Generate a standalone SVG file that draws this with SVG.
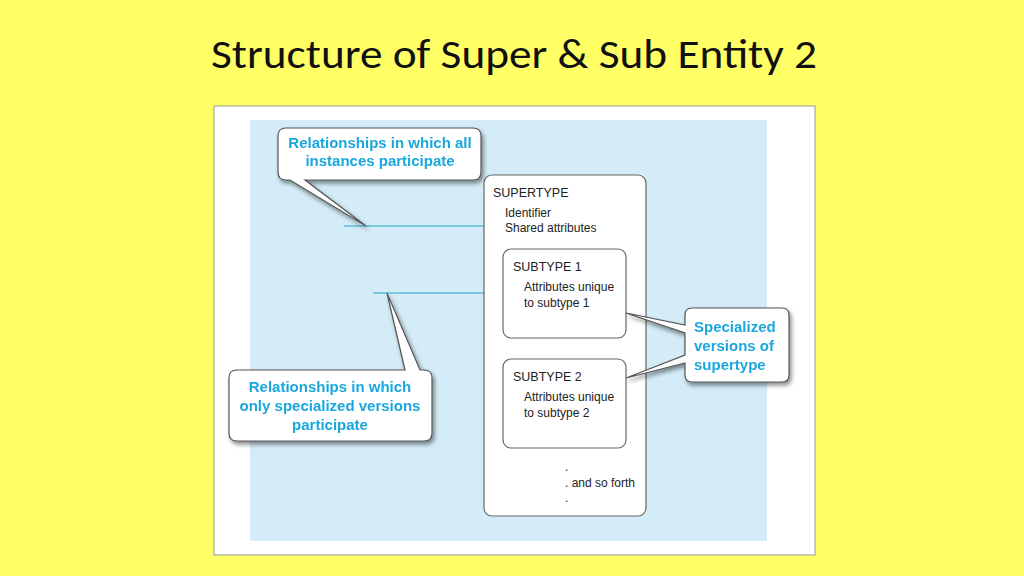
<svg xmlns="http://www.w3.org/2000/svg" width="1024" height="576" viewBox="0 0 1024 576">
<defs><filter id="sh" x="-10%" y="-10%" width="130%" height="140%"><feDropShadow dx="2" dy="3" stdDeviation="2" flood-color="#000" flood-opacity="0.45"/></filter></defs>
<style>
.t{font-family:"Liberation Sans",Arial,sans-serif;fill:#222}
.c{font-family:"Liberation Sans",Arial,sans-serif;fill:#1aa7dc;font-weight:bold;font-size:15px}
.box{fill:#fff;stroke:#666;stroke-width:1.2}
.call{fill:#fff;stroke:#555;stroke-width:1.2}
.ln{stroke:#5bbcd9;stroke-width:1.5}
</style>
<rect width="1024" height="576" fill="#ffff66"/>
<text x="514" y="68" text-anchor="middle" font-family="Calibri,Carlito,'Liberation Sans',sans-serif" font-size="42" textLength="606" lengthAdjust="spacingAndGlyphs" fill="#111">Structure of Super &amp; Sub Entity 2</text>
<rect x="214" y="106" width="601" height="449" fill="#fff" stroke="#999"/>
<rect x="250" y="120" width="517" height="421" fill="#d3ecf7"/>
<g id="connectors">
<line class="ln" x1="344" y1="226" x2="484" y2="226"/>
<line class="ln" x1="373" y1="293" x2="503" y2="293"/>
</g>
<g id="supertype">
<rect class="box" x="484" y="175" width="162" height="341" rx="8"/>
<text class="t" x="493" y="197" font-size="12.5">SUPERTYPE</text>
<text class="t" x="505" y="217" font-size="12">Identifier</text>
<text class="t" x="505" y="232" font-size="12">Shared attributes</text>
<text class="t" x="565" y="471" font-size="12">.</text>
<text class="t" x="565" y="487" font-size="12">. and so forth</text>
<text class="t" x="565" y="502" font-size="12">.</text>
</g>
<g id="subtype1">
<rect class="box" x="503" y="249" width="123" height="89" rx="8"/>
<text class="t" x="513" y="271" font-size="12.5">SUBTYPE 1</text>
<text class="t" x="524" y="291" font-size="12">Attributes unique</text>
<text class="t" x="524" y="307" font-size="12">to subtype 1</text>
</g>
<g id="subtype2">
<rect class="box" x="503" y="359" width="123" height="89" rx="8"/>
<text class="t" x="513" y="381" font-size="12.5">SUBTYPE 2</text>
<text class="t" x="524" y="401" font-size="12">Attributes unique</text>
<text class="t" x="524" y="417" font-size="12">to subtype 2</text>
</g>
<g id="callout1" filter="url(#sh)">
<path class="call" d="M286,128 H473 Q481,128 481,136 V172 Q481,180 473,180 H305 L366,226 L290,180 H286 Q278,180 278,172 V136 Q278,128 286,128 Z"/>
<text class="c" x="380" y="148" text-anchor="middle">Relationships in which all</text>
<text class="c" x="380" y="166" text-anchor="middle">instances participate</text>
</g>
<g id="callout2" filter="url(#sh)">
<path class="call" d="M237,370 H405 L387,293 L420,370 H424 Q432,370 432,378 V433 Q432,441 424,441 H237 Q229,441 229,433 V378 Q229,370 237,370 Z"/>
<text class="c" x="330" y="392" text-anchor="middle">Relationships in which</text>
<text class="c" x="330" y="411" text-anchor="middle">only specialized versions</text>
<text class="c" x="330" y="430" text-anchor="middle">participate</text>
</g>
<g id="callout3" filter="url(#sh)">
<path class="call" d="M692,308 H782 Q789,308 789,315 V375 Q789,382 782,382 H692 Q685,382 685,375 V363 L626,378 L685,355 V333 L626,313 L685,325 V315 Q685,308 692,308 Z"/>
<text class="c" x="694" y="332">Specialized</text>
<text class="c" x="694" y="351">versions of</text>
<text class="c" x="694" y="370">supertype</text>
</g>
</svg>
